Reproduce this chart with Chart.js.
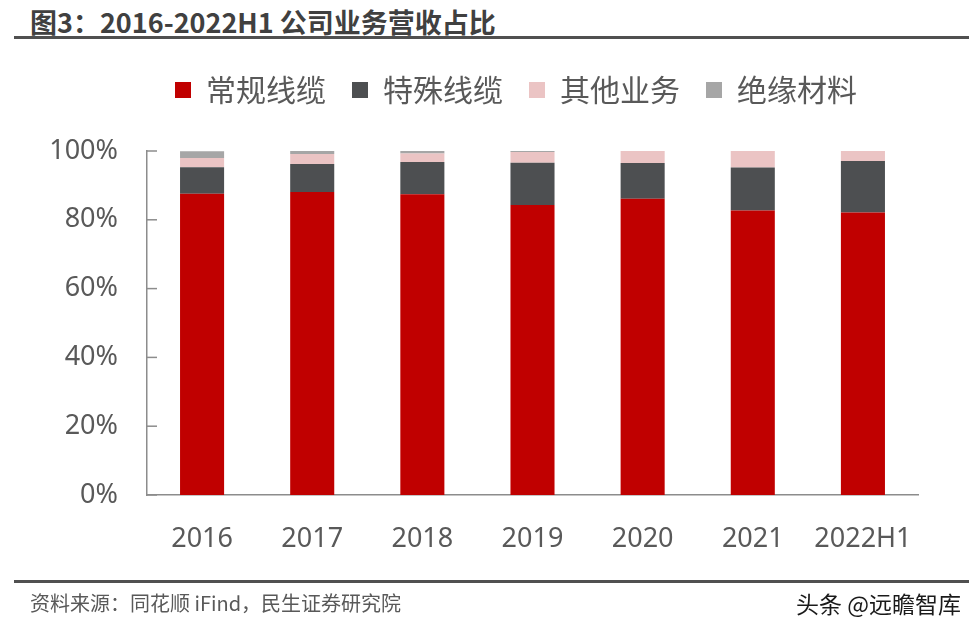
<!DOCTYPE html>
<html lang="zh">
<head>
    <meta charset="UTF-8">
    <title>2016-2022H1 公司业务营收占比</title>
    <script src="https://cdn.jsdelivr.net/npm/chart.js"></script>
    <style>
        body { margin: 0; width: 977px; height: 630px; background: #fff; position: relative; overflow: hidden;
               font-family: "Noto Sans CJK SC", "Noto Sans", sans-serif; }
        #wrap { position: absolute; left: 0; top: 0; width: 977px; height: 630px; }
        .title { position: absolute; left: 30px; top: 2px; font-size: 27px; font-weight: bold; color: #404040; }
        .rule { position: absolute; left: 14px; width: 955px; height: 3px; background: #505050; }
        .src { position: absolute; left: 30px; top: 588px; font-size: 20px; color: #595959; }
        .mark { position: absolute; right: 16px; top: 586px; font-size: 23px; color: #1a1a1a; }
    </style>
</head>
<body>

<div class="title">图3：2016-2022H1 公司业务营收占比</div>
<div class="rule" style="top:36px"></div>
<div id="wrap"><canvas id="shareChart" width="977" height="630"></canvas></div>
<div class="rule" style="top:580px"></div>
<div class="src">资料来源：同花顺 iFind，民生证券研究院</div>
<div class="mark">头条 @远瞻智库</div>

<script>
    // categories and series (% of revenue)
    const years = ['2016', '2017', '2018', '2019', '2020', '2021', '2022H1'];
    const regularCable = [87.6, 88.1, 87.4, 84.3, 86.1, 82.7, 82.1];
    const specialCable = [7.7, 8.1, 9.4, 12.3, 10.4, 12.5, 15.0];
    const otherBusiness = [2.7, 2.9, 2.5, 3.1, 3.5, 4.8, 2.9];
    const insulation = [1.9, 0.9, 0.7, 0.3, 0.0, 0.0, 0.0];
    const yTicks = [0, 20, 40, 60, 80, 100];

    const axisColor = '#8c8c8c';
    const textColor = '#595959';

    // short ticks pointing into the plot from the y axis
    const innerTicks = {
        id: 'innerTicks',
        afterDraw(chart) {
            const ctx = chart.ctx;
            const y = chart.scales.y;
            const left = chart.chartArea.left;
            ctx.save();
            ctx.strokeStyle = axisColor;
            ctx.lineWidth = 1.5;
            yTicks.forEach(v => {
                const py = y.getPixelForValue(v);
                ctx.beginPath();
                ctx.moveTo(left, py);
                ctx.lineTo(left + 10, py);
                ctx.stroke();
            });
            ctx.restore();
        }
    };

    // move the legend row to where it sits in the reference
    const legendPlace = {
        id: 'legendPlace',
        afterLayout(chart) {
            const lg = chart.legend;
            const pad = lg.options.labels.padding;
            const fs = lg.options.labels.font.size;
            const dy = 90 - (lg.top + pad + fs / 2);
            const dx = 516 - (lg.left + lg.right) / 2;
            lg.top += dy; lg.bottom += dy;
            lg.left += dx; lg.right += dx;
        }
    };

    const ctx = document.getElementById('shareChart').getContext('2d');

    new Chart(ctx, {
        type: 'bar',
        data: {
            labels: years,
            datasets: [
                { label: '常规线缆', data: regularCable, backgroundColor: '#c00000' },
                { label: '特殊线缆', data: specialCable, backgroundColor: '#4d4f51' },
                { label: '其他业务', data: otherBusiness, backgroundColor: '#ebc4c4' },
                { label: '绝缘材料', data: insulation, backgroundColor: '#a6a6a6' }
            ]
        },
        options: {
            responsive: false,
            animation: false,
            devicePixelRatio: 1,
            layout: { padding: { left: 0, right: 59, top: 85, bottom: 0 } },
            datasets: { bar: { barPercentage: 0.4, categoryPercentage: 1.0 } },
            plugins: {
                tooltip: { enabled: false },
                legend: {
                    position: 'top',
                    labels: {
                        boxWidth: 16,
                        boxHeight: 16,
                        padding: 26,
                        color: textColor,
                        font: { family: '"Noto Sans CJK SC", sans-serif', size: 30 }
                    }
                }
            },
            scales: {
                x: {
                    stacked: true,
                    afterFit(scale) { scale.height = 135; },
                    grid: { display: false, drawTicks: false },
                    border: { color: axisColor, width: 1.5 },
                    ticks: {
                        padding: 28,
                        color: textColor,
                        font: { family: '"Noto Sans", sans-serif', size: 27 }
                    }
                },
                y: {
                    stacked: true,
                    min: 0,
                    max: 100,
                    afterFit(scale) { scale.width = 147; },
                    afterBuildTicks(scale) { scale.ticks = yTicks.map(v => ({ value: v })); },
                    grid: { display: false, drawTicks: false },
                    border: { color: axisColor, width: 1.5 },
                    ticks: {
                        padding: 29,
                        color: textColor,
                        font: { family: '"Noto Sans", sans-serif', size: 27 },
                        callback: v => v + '%'
                    }
                }
            }
        },
        plugins: [innerTicks, legendPlace]
    });
</script>

</body>
</html>
